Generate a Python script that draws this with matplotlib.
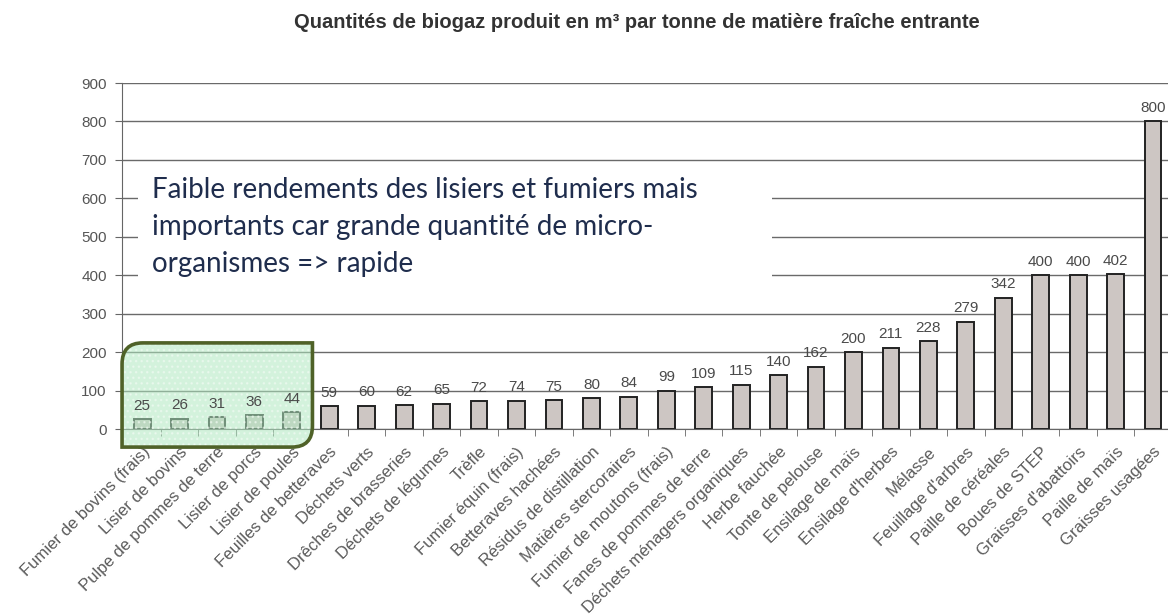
import matplotlib
matplotlib.use('Agg')
import matplotlib.pyplot as plt
from matplotlib.path import Path
from matplotlib.patches import PathPatch, Rectangle

# donnees
substrats = ['Fumier de bovins (frais)', 'Lisier de bovins', 'Pulpe de pommes de terre',
             'Lisier de porcs', 'Lisier de poules', 'Feuilles de betteraves',
             'Déchets verts', 'Drêches de brasseries', 'Déchets de légumes', 'Trèfle',
             'Fumier équin (frais)', 'Betteraves hachées', 'Résidus de distillation',
             'Matières stercoraires', 'Fumier de moutons (frais)', 'Fanes de pommes de terre',
             'Déchets ménagers organiques', 'Herbe fauchée', 'Tonte de pelouse',
             'Ensilage de maïs', "Ensilage d'herbes", 'Mélasse', "Feuillage d'arbres",
             'Paille de céréales', 'Boues de STEP', "Graisses d'abattoirs",
             'Paille de maïs', 'Graisses usagées']
biogaz_m3 = [25, 26, 31, 36, 44, 59, 60, 62, 65, 72, 74, 75, 80, 84, 99, 109,
             115, 140, 162, 200, 211, 228, 279, 342, 400, 400, 402, 800]
y_ticks = [0, 100, 200, 300, 400, 500, 600, 700, 800, 900]

titre = 'Quantités de biogaz produit en m³ par tonne de matière fraîche entrante'
note = ['Faible rendements des lisiers et fumiers mais',
        'importants car grande quantité de micro-',
        'organismes => rapide']

plt.rcParams['font.family'] = ['Liberation Sans', 'DejaVu Sans']

fig = plt.figure(figsize=(11.68, 6.15), dpi=100)
ax = fig.add_axes([0.1045, 0.3024, 0.8955, 0.5626])

x = list(range(len(substrats)))
ax.bar(x, biogaz_m3, width=0.45, color='#cdc6c3', edgecolor='#222222',
       linewidth=1.4, zorder=3)

# valeurs au-dessus des barres
for xi, v in zip(x, biogaz_m3):
    ax.text(xi, v + 17, str(v), ha='center', va='bottom', fontsize=11,
            color='#4a4a4a', zorder=8)

ax.set_xlim(-0.535, 27.4)
ax.set_ylim(0, 900)
ax.set_yticks(y_ticks)
ax.set_yticklabels([str(t) for t in y_ticks], fontsize=11, color='#555555')
ax.yaxis.grid(True, color='#6a6a6a', linewidth=1.0, zorder=1)
ax.set_axisbelow(True)

# graduations x entre les barres
ax.set_xticks([i + 0.5 for i in x[:-1]], minor=True)
ax.tick_params(axis='x', which='minor', length=5, color='#666666', direction='out')
ax.set_xticks(x)
ax.set_xticklabels(substrats, rotation=45, ha='right', va='top', rotation_mode='anchor',
                   fontsize=12, color='#5a5a5a')
ax.tick_params(axis='x', which='major', length=0, pad=11)
ax.tick_params(axis='y', length=5, color='#666666', pad=6)

for s in ['top', 'right']:
    ax.spines[s].set_visible(False)
ax.spines['left'].set_color('#666666')
ax.spines['bottom'].set_color('#666666')

fig.text(0.545, 1 - 28 / 615, titre, ha='center', va='baseline', fontsize=14.5,
         fontweight='bold', color='#333333')

# zone de texte blanche avec la remarque
fig.patches.append(Rectangle((138 / 1168, 1 - 292 / 615), (772 - 138) / 1168,
                             (292 - 172) / 615, transform=fig.transFigure,
                             facecolor='white', edgecolor='none', zorder=5))
for k, ligne in enumerate(note):
    fig.text(152 / 1168, 1 - (198 + 37 * k) / 615, ligne, ha='left', va='baseline',
             fontsize=20, family=['Lato', 'DejaVu Sans'], color='#1f2d4d', zorder=6)

# cadre vert arrondi autour des lisiers/fumiers
x0, x1, y0, y1 = -0.535, 4.55, -47, 224
rx, ry = 0.55, 55
verts = [(x0, y0), (x0, y1 - ry), (x0, y1), (x0 + rx, y1), (x1, y1),
         (x1, y0 + ry), (x1, y0), (x1 - rx, y0), (x0, y0)]
codes = [Path.MOVETO, Path.LINETO, Path.CURVE3, Path.CURVE3, Path.LINETO,
         Path.LINETO, Path.CURVE3, Path.CURVE3, Path.CLOSEPOLY]
zone = Path(verts, codes)
ax.add_patch(PathPatch(zone, facecolor='#b0e8c0', edgecolor='#f2fbf4', hatch='...',
                       linewidth=0, alpha=0.55, zorder=5, clip_on=False))
ax.add_patch(PathPatch(zone, facecolor='none', edgecolor='#4f6228', linewidth=2.6,
                       zorder=6, clip_on=False))

fig.savefig('out.png', dpi=100)
